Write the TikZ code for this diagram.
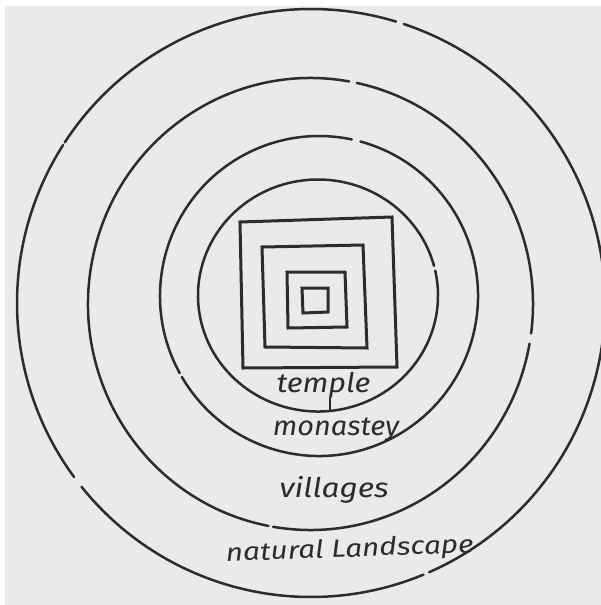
\documentclass[tikz,border=0pt]{standalone}
\usepackage{fontspec}
\setmainfont{Fira Sans}
\usepackage{graphicx}
\usepackage{xcolor}
\definecolor{inkGray}{RGB}{44, 44, 44}
\definecolor{paperGray}{RGB}{234, 234, 234}

\begin{document}
\begin{tikzpicture}[
    x=1pt, y=-1pt,
    ring/.style={draw=inkGray, line width=2.5pt, line cap=round},
    sq/.style={draw=inkGray, line width=3pt, line join=miter},
    word/.style={text=inkGray, inner sep=0pt, anchor=base, font=\fontsize{27}{27}\selectfont\itshape}
]

% Paper, with the thin white edge on the left and at the top
\useasboundingbox (0,0) rectangle (601,605);
\fill[paperGray] (5,6) rectangle (601,605);
\clip (0,0) rectangle (601,605);

% Centres of the four rings
\coordinate (c1) at (311,303);
\coordinate (c2) at (310.5,304);
\coordinate (c3) at (319,296);
\coordinate (c4) at (318,295.5);

% Rings - drawn as arcs so the small pen breaks stay open
\draw[ring] (c1) ++(67.5:294 and 294) arc[start angle=67.5, end angle=141.3, x radius=294, y radius=294];
\draw[ring] (c1) ++(143.7:294 and 294) arc[start angle=143.7, end angle=212.5, x radius=294, y radius=294];
\draw[ring] (c1) ++(213.1:294 and 294) arc[start angle=213.1, end angle=286.8, x radius=294, y radius=294];
\draw[ring] (c1) ++(288.4:294 and 294) arc[start angle=288.4, end angle=426.3, x radius=294, y radius=294];

\draw[ring] (c2) ++(10.1:222.5 and 226) arc[start angle=10.1, end angle=99.7, x radius=222.5, y radius=226];
\draw[ring] (c2) ++(100.9:222.5 and 226) arc[start angle=100.9, end angle=280, x radius=222.5, y radius=226];
\draw[ring] (c2) ++(282:222.5 and 226) arc[start angle=282, end angle=367.5, x radius=222.5, y radius=226];

\draw[ring] (c3) ++(151.2:159 and 160) arc[start angle=151.2, end angle=281.9, x radius=159, y radius=160];
\draw[ring] (c3) ++(285.1:159 and 160) arc[start angle=285.1, end angle=509.6, x radius=159, y radius=160];

\draw[ring] (c4) ++(347.6:120 and 116) arc[start angle=347.6, end angle=705.2, x radius=120, y radius=116];

% Squares, outside in
\draw[sq] (240,222) -- (392,217) -- (397,367) -- (243,368) -- cycle;
\draw[sq] (262,247) -- (363,245) -- (367,348) -- (265,347) -- cycle;
\draw[sq] (287,272) -- (345,272) -- (347,327) -- (288,328) -- cycle;
\draw[sq] (302,288) -- (328,288) -- (328,312) -- (303,313) -- cycle;

% Labels
\node[word] (temple) at (323.5,392) {\scalebox{1.13}[1]{temple}};
\node[word] (monastery) at (336,435) {\scalebox{1.07}[1]{monastey}};
\node[word] (villages) at (334,497) {\scalebox{1.17}[1]{villages}};
\node[word, rotate=2, font=\fontsize{25}{25}\selectfont\itshape] (landscape) at (350,557) {\scalebox{1.19}[1]{natural Landscape}};

% little stroke under temple
\coordinate (tick) at (330,411);
\draw[ring] (temple.south -| tick) -- (tick);

\end{tikzpicture}
\end{document}
